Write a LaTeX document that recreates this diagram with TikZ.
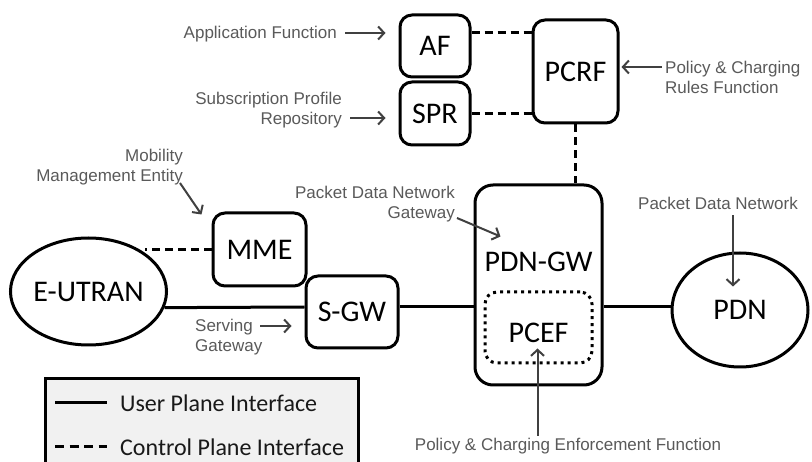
\documentclass[tikz,border=0pt]{standalone}
\usepackage{fontspec}
\setmainfont{Carlito}
\newfontfamily\annfont{Liberation Sans}
\usetikzlibrary{arrows.meta,calc,shapes.geometric}
\definecolor{annc}{HTML}{5A5A5A}
\definecolor{annarr}{HTML}{404040}
\definecolor{legfill}{HTML}{F1F1F1}
\begin{document}
\begin{tikzpicture}[x=1pt,y=-1pt,
  box/.style={draw, line width=3pt, rounded corners=12pt, inner sep=0pt,
    font=\fontsize{30}{36}\selectfont},
  ell/.style={ellipse, draw, line width=3pt, inner sep=0pt,
    font=\fontsize{30}{36}\selectfont},
  lbl/.style={inner sep=0pt, font=\fontsize{30}{36}\selectfont},
  ctrl/.style={line width=3pt, dash pattern=on 8pt off 5pt},
  userline/.style={line width=3pt},
  ann/.style={inner sep=0pt, text=annc, font=\annfont\fontsize{17}{20}\selectfont},
  annarrow/.style={draw=annarr, line width=2pt, -{Straight Barb[length=6pt,width=13pt]}},
  leg/.style={inner sep=0pt, text=black!90, font=\fontsize{24}{28}\selectfont}]
\useasboundingbox (0,0) rectangle (812,462);
\fill[white] (0,0) rectangle (812,462);

% main nodes
\node[box, minimum width=70pt, minimum height=62pt] (AF) at (435,46) {AF};
\node[box, minimum width=70pt, minimum height=63pt] (SPR) at (435,113.5) {SPR};
\node[box, minimum width=85pt, minimum height=103pt] (PCRF) at (575.5,71.5) {PCRF};
\node[box, minimum width=93pt, minimum height=73pt] (MME) at (259.5,249.5) {MME};
\node[box, minimum width=92pt, minimum height=72pt] (SGW) at (352,312) {S-GW};
\node[box, rounded corners=18pt, minimum width=127pt, minimum height=200pt] (PDNGW) at (538.5,285) {};
\node[lbl] (pdngwtext) at (538.5,262) {PDN-GW};
\node[draw, line width=3pt, dash pattern=on 3pt off 4pt, rounded corners=12pt,
  minimum width=107pt, minimum height=71pt, inner sep=0pt] (PCEFbox) at (538.5,327.5) {};
\node[lbl] (pceftext) at (538.5,333) {PCEF};
\node[ell, minimum width=153pt, minimum height=107pt] (EUTRAN) at (88.5,291.5) {E-UTRAN};
\node[ell, minimum width=136pt, minimum height=114pt] (PDN) at (740,310) {PDN};

% connectors
\coordinate (uy) at (0,307);
\draw[ctrl] (AF.20) -- (AF.20 -| PCRF.west);
\draw[ctrl] (SPR.east) -- (SPR.east -| PCRF.west);
\draw[ctrl] (PCRF.south) -- (PCRF.south |- PDNGW.north);
\draw[ctrl] (MME.west) -- (MME.west -| EUTRAN.north east);
\draw[userline] (EUTRAN.-12) -- (SGW.west |- uy);
\draw[userline] (SGW.east |- uy) -- (PDNGW.west |- uy);
\draw[userline] (PDNGW.east |- uy) -- (PDN.west |- uy);

% annotations
\node[ann, anchor=east] (afl) at (337,34) {Application Function};
\draw[annarrow] ($(afl.east)+(8,-1)$) -- ($(AF.west |- afl.east)+(-13,-1)$);

\node[ann, anchor=east, align=right] (sprl) at (342,110) {Subscription Profile\\Repository};
\draw[annarrow] ($(sprl.east)+(8,8)$) -- ($(SPR.west |- sprl.east)+(-13,8)$);

\node[ann, anchor=west, align=left] (pcrfl) at (665,77) {Policy \& Charging\\Rules Function};
\draw[annarrow] ($(pcrfl.west)+(-3,-10)$) -- ($(PCRF.east |- pcrfl.west)+(2,-10)$);

\node[ann, anchor=east, align=right] (mmel) at (183,167) {Mobility\\Management Entity};
\draw[annarrow] ($(mmel.east)+(-3,16)$) -- ($(MME.north west)+(-10,3)$);

\node[ann, anchor=east, align=right] (pgwl) at (455,204) {Packet Data Network\\Gateway};
\draw[annarrow] ($(pgwl.east)+(2,14)$) -- ($(PDNGW.north west)+(27,53)$);

\node[ann] (pdnl) at (718,203) {Packet Data Network};
\draw[annarrow] ($(pdnl.south)+(15,6)$) -- ($(PDN.north)+(-7,35)$);

\node[ann, anchor=west, align=left] (sgwl) at (195,337) {Serving\\Gateway};
\draw[annarrow] ($(sgwl.west)+(65,-11)$) -- ($(SGW.west)+(-13,14)$);

\node[ann] (pcefl) at (568,446) {Policy \& Charging Enforcement Function};
\draw[annarrow] ($(pcefl.north -| PCEFbox.center)+(-1,-2)$) -- ($(PCEFbox.south)+(-1,-16)$);

% legend
\begin{scope}
\clip (0,0) rectangle (812,462);
\fill[legfill] (45,379) rectangle (358,480);
\draw[line width=3pt] (45,480) -- (45,379) -- (358,379) -- (358,480);
\end{scope}
\coordinate (lu1) at (55,403);
\coordinate (lu2) at (107,403);
\coordinate (lc1) at (55,447);
\coordinate (lc2) at (107,447);
\draw[userline] (lu1) -- (lu2);
\draw[line width=3pt, dash pattern=on 9pt off 5.5pt] (lc1) -- (lc2);
\node[leg, anchor=west] (legu) at (120,403) {User Plane Interface};
\node[leg, anchor=west] (legc) at (120,447) {Control Plane Interface};
\end{tikzpicture}
\end{document}
